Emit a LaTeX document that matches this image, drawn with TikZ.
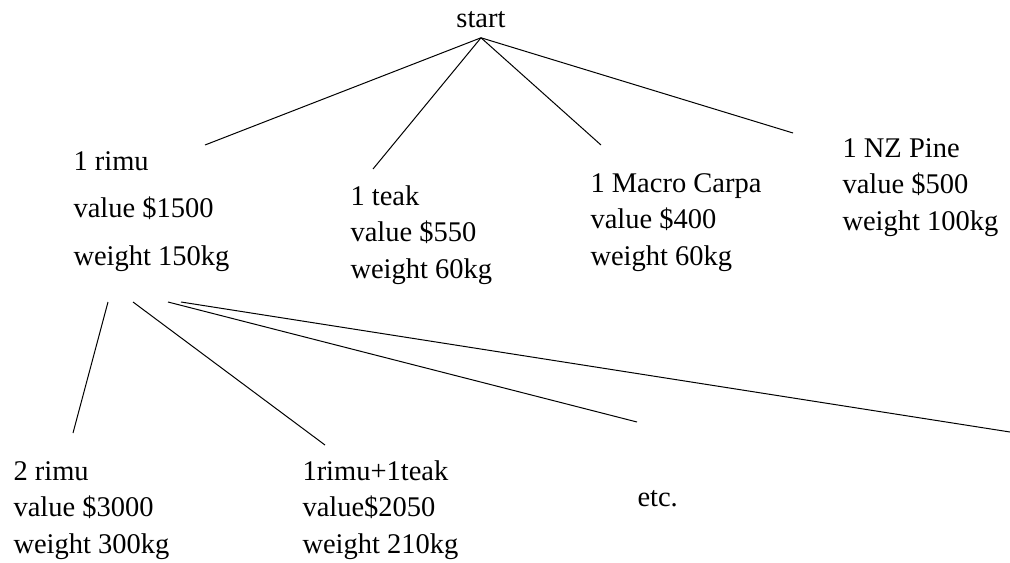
\documentclass[tikz,border=0pt]{standalone}
\usepackage{fontspec}
\setmainfont{Liberation Serif}
\begin{document}
\begin{tikzpicture}[x=0.5pt, y=-0.5pt, line width=0.5pt,
    leaf/.style={anchor=base west, align=left, inner sep=0pt,
        font=\fontsize{14.25pt}{18.2pt}\selectfont}]
    \useasboundingbox (0,0) rectangle (1010,562);

    % 1. Gốc cây
    \node[anchor=base, inner sep=5pt, font=\fontsize{14.25pt}{18pt}\selectfont] (start) at (481,27) {start};

    % 2. Tầng thứ nhất (base = dòng cuối)
    \node[leaf, font=\fontsize{14.25pt}{23.75pt}\selectfont] (rimu) at (73,265)
        {1 rimu\\value \$1500\\weight 150kg};
    \node[leaf] (teak) at (350,278) {1 teak\\value \$550\\weight 60kg};
    \node[leaf] (carpa) at (590,265) {1 Macro Carpa\\value \$400\\weight 60kg};
    \node[leaf] (pine) at (842,230) {1 NZ Pine\\value \$500\\weight 100kg};

    % Đầu các nhánh
    \coordinate (rimuIn) at (205,145);
    \coordinate (teakIn) at (373,169);
    \coordinate (carpaIn) at (601,145);
    \coordinate (pineIn) at (793,133);
    \foreach \c in {rimuIn,teakIn,carpaIn,pineIn}
        \draw (start.south) -- (\c);

    % 3. Tầng thứ hai (từ 1 rimu)
    \node[leaf] (tworimu) at (13,553) {2 rimu\\value \$3000\\weight 300kg};
    \node[leaf] (mix) at (302,553) {1rimu+1teak\\value\$2050\\weight 210kg};
    \node[leaf] (etc) at (637,506) {etc.};

    \coordinate (rimuA) at (108,302);
    \coordinate (rimuB) at (133,302);
    \coordinate (rimuC) at (168,302);
    \coordinate (rimuD) at (181,302);
    \coordinate (tworimuIn) at (73,433);
    \coordinate (mixIn) at (325,445);
    \coordinate (etcIn) at (637,422);
    \coordinate (moreIn) at (1010,432);

    \draw (rimuA) -- (tworimuIn);
    \draw (rimuB) -- (mixIn);
    \draw (rimuC) -- (etcIn);
    \draw (rimuD) -- (moreIn);
\end{tikzpicture}
\end{document}
